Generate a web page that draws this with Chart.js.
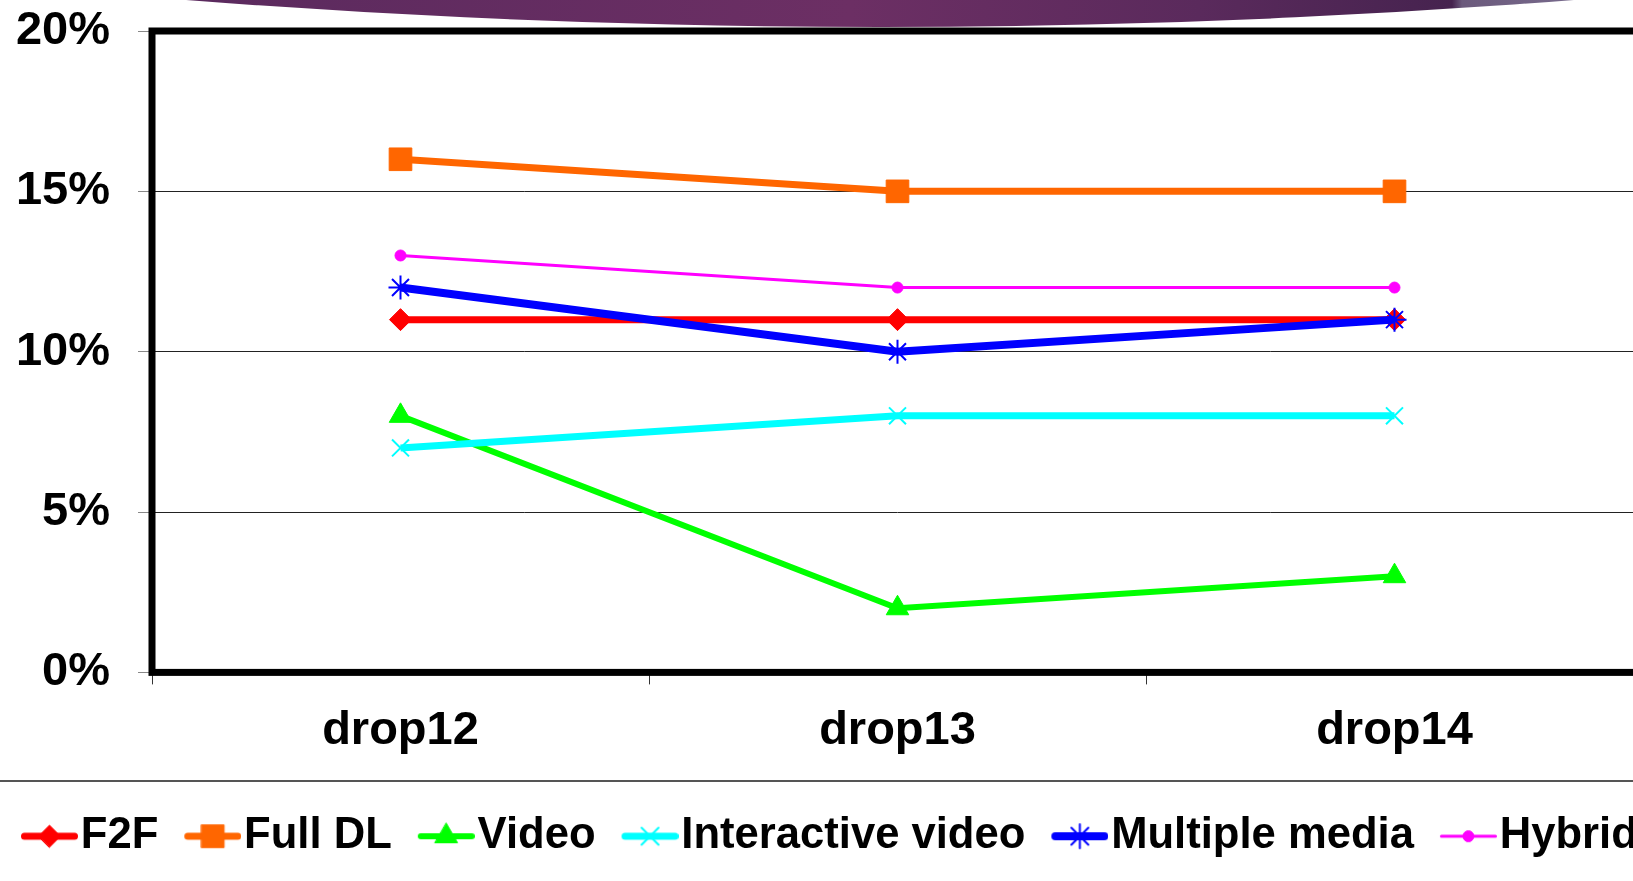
<!DOCTYPE html>
<html>
<head>
<meta charset="utf-8">
<script src="https://cdn.jsdelivr.net/npm/chart.js"></script>
<style>
  html, body { margin: 0; padding: 0; background: #fff; overflow: hidden; width: 1633px; height: 881px; }
  #wrap { position: absolute; left: -5px; top: 0; width: 1700px; height: 881px; }
  #swoosh {
    position: absolute; left: 0; top: 0; width: 1633px; height: 30px;
    background: linear-gradient(to right, #5b2a5e 200px, #6c2f64 850px, #5a2a5c 1200px, #46234f 1452px, #6b5a7c 1462px, #76688a 1563px);
    clip-path: ellipse(4237px 2000px at 880px -1973px);
  }
  #rule { position: absolute; left: 0; top: 780px; width: 1633px; height: 2px; background: #555; }
</style>
</head>
<body>
<div id="swoosh"></div>
<div id="rule"></div>
<div id="wrap"><canvas id="myChart"></canvas></div>
<script>
// data (percent)
var categories = ["drop12", "drop13", "drop14"];
var f2f = [11, 11, 11];
var fullDL = [16, 15, 15];
var video = [8, 2, 3];
var interactiveVideo = [7, 8, 8];
var multipleMedia = [12, 10, 11];
var hybrid = [13, 12, 12];
var seriesNames = ["F2F", "Full DL", "Video", "Interactive video", "Multiple media", "Hybrid"];
var yMin = 0, yMax = 20, yStep = 5;

var font = "'Liberation Sans', Arial, sans-serif";

function makeSet(label, data, color, width, style, radius, pbw, order) {
    return {
        label: label,
        data: data,
        borderColor: color,
        backgroundColor: color,
        borderWidth: width,
        pointStyle: style,
        pointRadius: radius,
        pointBackgroundColor: color,
        pointBorderColor: color,
        pointBorderWidth: pbw,
        tension: 0,
        order: order
    };
}

var datasets = [
    makeSet(seriesNames[0], f2f, "#ff0000", 7, "rectRot", 11, 1, 6),
    makeSet(seriesNames[1], fullDL, "#ff6600", 7, "rect", 16, 1, 5),
    makeSet(seriesNames[2], video, "#00ff00", 6, "triangle", 13, 1, 4),
    makeSet(seriesNames[3], interactiveVideo, "#00ffff", 7, "crossRot", 12, 2, 3),
    makeSet(seriesNames[4], multipleMedia, "#0000ff", 8, "star", 12, 2, 2),
    makeSet(seriesNames[5], hybrid, "#ff00ff", 3, "circle", 5.5, 1, 1)
];

// legend symbol: line with marker in the middle (Excel style)
function legendSymbol(ds) {
    var c = document.createElement("canvas");
    c.width = 76; c.height = 34;
    var ctx = c.getContext("2d");
    var lw = Math.max(ds.borderWidth, 3);
    ctx.strokeStyle = ds.borderColor;
    ctx.fillStyle = ds.borderColor;
    ctx.lineWidth = lw;
    ctx.lineCap = "round";
    ctx.beginPath();
    ctx.moveTo(19 + lw / 2, 17);
    ctx.lineTo(76 - lw / 2, 17);
    ctx.stroke();
    ctx.lineWidth = ds.pointBorderWidth;
    if (Chart.helpers && Chart.helpers.drawPoint) {
        Chart.helpers.drawPoint(ctx, {radius: ds.pointRadius, pointStyle: ds.pointStyle, rotation: 0, borderWidth: ds.pointBorderWidth}, 47.5, 17);
    } else {
        ctx.beginPath();
        ctx.arc(47.5, 17, ds.pointRadius, 0, Math.PI * 2);
        ctx.fill();
    }
    return c;
}

var frame = {
    id: "frame",
    beforeDatasetsDraw: function(chart) {
        var a = chart.chartArea;
        var ctx = chart.ctx;
        ctx.save();
        ctx.lineWidth = 7;
        ctx.strokeStyle = "#000";
        ctx.strokeRect(a.left, a.top, a.right - a.left, a.bottom - a.top);
        ctx.restore();
    }
};

new Chart("myChart", {
    type: "line",
    data: {
        labels: categories,
        datasets: datasets
    },
    plugins: [frame],
    options: {
        responsive: true,
        maintainAspectRatio: false,
        animation: false,
        layout: { padding: { top: 31, bottom: 13, left: 0, right: 0 } },
        scales: {
            x: {
                offset: true,
                grid: { display: true, offset: true, drawOnChartArea: false, drawTicks: true, tickLength: 12, tickColor: "#333", lineWidth: 1 },
                border: { display: false },
                ticks: { color: "#000", padding: 18, font: { family: font, size: 47, weight: "bold" } },
                afterFit: function(s) { s.height = 116; }
            },
            y: {
                min: yMin,
                max: yMax,
                // long tick slot keeps label gap without extra top padding; dash shows only the inner 14px
                grid: { color: "#222", lineWidth: 1, tickLength: 42, tickColor: "#888", tickBorderDash: [0, 28, 14, 0] },
                border: { display: false },
                ticks: {
                    stepSize: yStep,
                    color: "#000",
                    padding: 0,
                    font: { family: font, size: 47, weight: "bold" },
                    callback: function(v) { return v + "%"; }
                },
                afterFit: function(s) { s.width = 157; }
            },
            yr: {
                type: "linear",
                position: "right",
                grid: { display: false },
                border: { display: false },
                ticks: { display: false },
                afterFit: function(s) { s.width = 52; }
            }
        },
        plugins: {
            tooltip: { enabled: false },
            legend: {
                position: "bottom",
                align: "start",
                labels: {
                    usePointStyle: true,
                    pointStyleWidth: 38,
                    padding: 26,
                    color: "#000",
                    font: { family: font, size: 43.6, weight: "bold" },
                    generateLabels: function(chart) {
                        return chart.data.datasets.map(function(ds, i) {
                            return {
                                text: ds.label,
                                pointStyle: legendSymbol(ds),
                                fillStyle: ds.borderColor,
                                strokeStyle: ds.borderColor,
                                lineWidth: 0,
                                hidden: false,
                                datasetIndex: i
                            };
                        });
                    }
                }
            }
        }
    }
});
</script>
</body>
</html>
